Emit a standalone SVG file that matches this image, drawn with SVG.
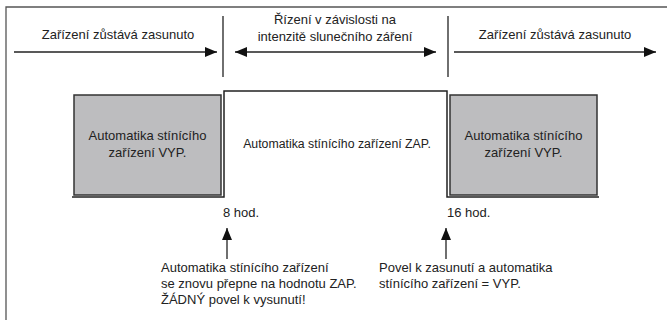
<svg xmlns="http://www.w3.org/2000/svg" width="667" height="320" viewBox="0 0 667 320">
<style>
text{font-family:"Liberation Sans",Arial,sans-serif;font-size:13px;fill:#222}
.c{text-anchor:middle}
.ln{stroke:#222;stroke-width:1.3;fill:none}
.box{fill:#bdbdbf;stroke:#333;stroke-width:1.5}
</style>
<defs>
<marker id="ah" viewBox="0 0 12 10" refX="12" refY="5" markerWidth="12" markerHeight="10" markerUnits="userSpaceOnUse" orient="auto-start-reverse">
<path d="M0,0 L12,5 L0,10 Z" fill="#111"/>
</marker>
</defs>
<rect width="667" height="320" fill="#fff"/>
<g id="frame">
<path d="M6,320 V7 H667" fill="none" stroke="#555" stroke-width="1.3"/>
</g>
<g id="connectors">
<line class="ln" x1="14" y1="52" x2="217" y2="52" marker-end="url(#ah)"/>
<line class="ln" x1="235" y1="52" x2="436" y2="52" marker-start="url(#ah)" marker-end="url(#ah)"/>
<line class="ln" x1="454" y1="52" x2="656" y2="52" marker-end="url(#ah)"/>
<line class="ln" x1="223" y1="16" x2="223" y2="77"/>
<line class="ln" x1="448" y1="16" x2="448" y2="77"/>
<line class="ln" x1="227" y1="259" x2="227" y2="228" marker-end="url(#ah)"/>
<line class="ln" x1="446" y1="259" x2="446" y2="228" marker-end="url(#ah)"/>
</g>
<g id="waveform">
<path d="M72,197 H224 V91 H447 V197 H599" fill="none" stroke="#222" stroke-width="1.5"/>
</g>
<g id="box-off-1">
<rect class="box" x="74" y="95" width="147" height="100"/>
<text class="c" x="147.5" y="140">Automatika stínícího</text>
<text class="c" x="147.5" y="157">zařízení VYP.</text>
</g>
<g id="on">
<text class="c" x="337" y="148" style="font-size:12.3px">Automatika stínícího zařízení ZAP.</text>
</g>
<g id="box-off-2">
<rect class="box" x="450" y="95" width="147" height="100"/>
<text class="c" x="523.5" y="140">Automatika stínícího</text>
<text class="c" x="523.5" y="157">zařízení VYP.</text>
</g>
<g id="top-labels">
<text class="c" x="118" y="39">Zařízení zůstává zasunuto</text>
<text class="c" x="335" y="24">Řízení v závislosti na</text>
<text class="c" x="335" y="41">intenzitě slunečního záření</text>
<text class="c" x="555" y="39">Zařízení zůstává zasunuto</text>
</g>
<g id="time-8">
<text x="223" y="217">8 hod.</text>
</g>
<g id="time-16">
<text x="447" y="217">16 hod.</text>
</g>
<g id="note-8">
<text x="161" y="272">Automatika stínícího zařízení</text>
<text x="161" y="288">se znovu přepne na hodnotu ZAP.</text>
<text x="161" y="304">ŽÁDNÝ povel k vysunutí!</text>
</g>
<g id="note-16">
<text x="379" y="272">Povel k zasunutí a automatika</text>
<text x="379" y="288">stínícího zařízení = VYP.</text>
</g>
</svg>
